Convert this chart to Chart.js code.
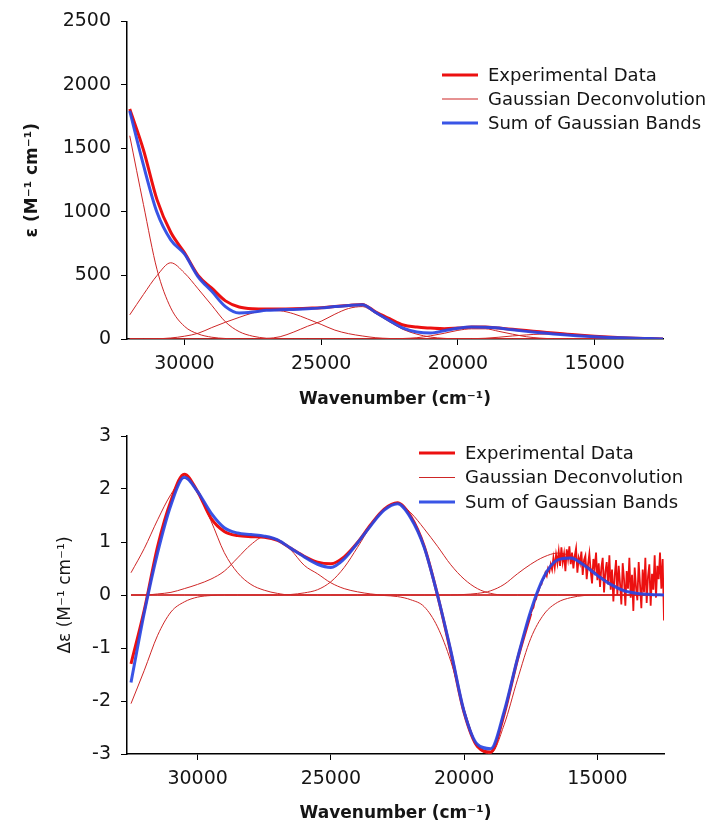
<!DOCTYPE html>
<html>
<head>
<meta charset="utf-8">
<title>Gaussian deconvolution - absorption and CD</title>
<style>
    body { margin: 0; background: #fff; }
    canvas { display: block; }
</style>
</head>
<body>

<script src="https://cdn.jsdelivr.net/npm/chart.js@4.4.0/dist/chart.umd.min.js"></script>

<canvas id="abs" width="714" height="412"></canvas>
<canvas id="cd" width="714" height="412"></canvas>

<script>
    // grid helper (wavenumbers only, values are typed below)
    function range(from, to, step) {
        const out = [];
        for (let v = from; v >= to; v -= step) out.push(v);
        return out;
    }

    // ---------- top panel: epsilon ----------
    const absWn = range(32000, 12500, 500);   // 40 points
    const absExp = [1810, 1490, 1095, 840, 680, 500, 400, 300, 252, 238,
        236, 236, 238, 242, 246, 256, 264, 272, 212, 160,
        110, 94, 86, 80, 86, 94, 94, 86, 76, 66,
        57, 47, 38, 29, 21, 15, 10, 6, 3, 0];
    const absSum = [1795, 1370, 995, 780, 670, 490, 375, 255, 205, 212,
        226, 230, 233, 238, 245, 255, 264, 270, 208, 145,
        85, 55, 47, 65, 85, 94, 92, 86, 72, 60,
        50, 40, 31, 24, 17, 12, 9, 6, 3, 0];
    const absBands = [
        [1600, 1060, 545, 245, 100, 40, 14, 4, 0, 0, 0, 0, 0, 0, 0, 0, 0, 0, 0, 0,
            0, 0, 0, 0, 0, 0, 0, 0, 0, 0, 0, 0, 0, 0, 0, 0, 0, 0, 0, 0],
        [190, 350, 500, 600, 520, 395, 265, 135, 58, 22, 6, 1, 0, 0, 0, 0, 0, 0, 0, 0,
            0, 0, 0, 0, 0, 0, 0, 0, 0, 0, 0, 0, 0, 0, 0, 0, 0, 0, 0, 0],
        [0, 0, 2, 8, 22, 45, 90, 132, 170, 205, 225, 222, 198, 158, 115, 70, 42, 24, 10, 4,
            0, 0, 0, 0, 0, 0, 0, 0, 0, 0, 0, 0, 0, 0, 0, 0, 0, 0, 0, 0],
        [0, 0, 0, 0, 0, 0, 0, 0, 0, 0, 4, 18, 55, 100, 140, 195, 240, 255, 200, 135,
            75, 38, 15, 5, 1, 0, 0, 0, 0, 0, 0, 0, 0, 0, 0, 0, 0, 0, 0, 0],
        [0, 0, 0, 0, 0, 0, 0, 0, 0, 0, 0, 0, 0, 0, 0, 0, 0, 0, 0, 0,
            4, 10, 25, 45, 68, 80, 80, 60, 38, 18, 7, 2, 0, 0, 0, 0, 0, 0, 0, 0],
        [0, 0, 0, 0, 0, 0, 0, 0, 0, 0, 0, 0, 0, 0, 0, 0, 0, 0, 0, 0,
            0, 0, 0, 0, 0, 2, 6, 14, 24, 32, 38, 38, 31, 24, 17, 12, 8, 5, 2, 0]
    ];
    const absYTicks = [0, 500, 1000, 1500, 2000, 2500];

    // ---------- bottom panel: delta epsilon ----------
    const cdWn = range(32500, 12500, 500);    // 41 points
    // experimental CD: smooth part read every 500, noisy tail every 50
    const cdExpWn = range(32500, 17500, 500);
    const cdExp = [-1.3, -0.28, 0.92, 1.78, 2.28, 1.95, 1.45, 1.2, 1.12, 1.1,
        1.09, 1.03, 0.88, 0.73, 0.62, 0.59, 0.72, 0.99, 1.33, 1.62,
        1.74, 1.48, 0.92, 0.0, -1.08, -2.22, -2.86, -2.96, -2.25, -1.22, -0.35];
    const cdNoiseWn = range(17500, 12500, 50);
    const cdNoise = [
        -0.35, -0.28, -0.24, -0.12, -0.08, 0.04, 0.08, 0.18, 0.20, 0.30, 0.32,
        0.42, 0.36, 0.50, 0.44, 0.58, 0.48, 0.70, 0.52, 0.76, 0.60,
        0.82, 0.55, 0.90, 0.62, 0.78, 0.45, 0.86, 0.68, 0.92, 0.58,
        0.80, 0.50, 0.74, 0.88, 0.42, 0.70, 0.60, 0.82, 0.38, 0.66,
        0.74, 0.30, 0.58, 0.78, 0.45, 0.22, 0.68, 0.50, 0.80, 0.28,
        0.60, 0.15, 0.52, 0.70, 0.05, 0.44, 0.62, 0.20, 0.75, 0.10,
        0.48, -0.12, 0.36, 0.66, 0.00, 0.55, 0.22, -0.18, 0.60, 0.30,
        -0.20, 0.45, 0.12, 0.70, -0.05, 0.38, -0.30, 0.52, 0.15, -0.10,
        0.62, 0.20, -0.25, 0.48, 0.05, 0.70, -0.15, 0.35, 0.58, -0.20,
        0.40, 0.10, 0.75, -0.05, 0.55, 0.30, 0.80, 0.12, 0.68, -0.48];
    const cdSum = [-1.65, -0.33, 0.8, 1.7, 2.22, 1.95, 1.55, 1.27, 1.17, 1.14,
        1.11, 1.04, 0.88, 0.72, 0.58, 0.52, 0.68, 0.98, 1.31, 1.6,
        1.72, 1.45, 0.9, 0.0, -1.05, -2.2, -2.82, -2.9, -2.2, -1.2,
        -0.3, 0.35, 0.66, 0.70, 0.56, 0.37, 0.2, 0.08, 0.03, 0.01, 0];
    const cdBands = [
        [-2.05, -1.42, -0.76, -0.32, -0.13, -0.04, -0.01, 0, 0, 0, 0, 0, 0, 0, 0, 0, 0, 0, 0, 0,
            0, 0, 0, 0, 0, 0, 0, 0, 0, 0, 0, 0, 0, 0, 0, 0, 0, 0, 0, 0, 0],
        [0.42, 0.88, 1.42, 1.9, 2.2, 1.92, 1.4, 0.8, 0.42, 0.2, 0.09, 0.03, 0, 0, 0, 0, 0, 0, 0, 0,
            0, 0, 0, 0, 0, 0, 0, 0, 0, 0, 0, 0, 0, 0, 0, 0, 0, 0, 0, 0, 0],
        [0, 0, 0.02, 0.05, 0.12, 0.2, 0.3, 0.45, 0.7, 0.95, 1.1, 1.05, 0.85, 0.56, 0.4, 0.23, 0.12, 0.06, 0.02, 0,
            0, 0, 0, 0, 0, 0, 0, 0, 0, 0, 0, 0, 0, 0, 0, 0, 0, 0, 0, 0, 0],
        [0, 0, 0, 0, 0, 0, 0, 0, 0, 0, 0, 0, 0.01, 0.04, 0.1, 0.25, 0.52, 0.9, 1.3, 1.62,
            1.74, 1.55, 1.25, 0.92, 0.57, 0.3, 0.12, 0.03, 0, 0, 0, 0, 0, 0, 0, 0, 0, 0, 0, 0, 0],
        [0, 0, 0, 0, 0, 0, 0, 0, 0, 0, 0, 0, 0, 0, 0, 0, 0, 0, 0, -0.01,
            -0.03, -0.09, -0.22, -0.6, -1.25, -2.15, -2.85, -2.99, -2.45, -1.6,
            -0.82, -0.36, -0.14, -0.05, -0.01, 0, 0, 0, 0, 0, 0],
        [0, 0, 0, 0, 0, 0, 0, 0, 0, 0, 0, 0, 0, 0, 0, 0, 0, 0, 0, 0,
            0, 0, 0, 0, 0, 0.01, 0.03, 0.08, 0.2, 0.4, 0.58, 0.72, 0.79, 0.74, 0.6,
            0.4, 0.22, 0.09, 0.03, 0.01, 0]
    ];
    const cdYTicks = [-3, -2, -1, 0, 1, 2, 3];

    const xTicks = [30000, 25000, 20000, 15000];

    const RED = 'rgb(236, 16, 16)';
    const THIN = 'rgb(206, 38, 38)';
    const BLUE = 'rgba(40, 70, 228, 0.92)';

    Chart.defaults.font.family = '"DejaVu Sans"';
    Chart.defaults.color = '#151515';

    function pts(xs, ys) {
        return xs.map((x, i) => ({x: x, y: ys[i]}));
    }

    function buildDatasets(wn, exp, expWn, sum, bands, noiseWn, noise) {
        // first dataset is drawn on top
        const sets = [
            {label: 'Sum of Gaussian Bands', data: pts(wn, sum), borderColor: BLUE, borderWidth: 3},
            {label: 'Experimental Data', data: pts(expWn, exp), borderColor: RED, borderWidth: 3}
        ];
        if (noise) {
            // jagged tail: straight segments
            sets.push({label: 'Experimental Data', data: pts(noiseWn, noise), borderColor: RED,
                borderWidth: 1.8, cubicInterpolationMode: 'default', tension: 0});
        }
        bands.forEach(b => {
            sets.push({label: 'Gaussian Deconvolution', data: pts(wn, b), borderColor: THIN, borderWidth: 1});
        });
        return sets;
    }

    // legend drawn at a fixed spot inside the plot, like the original figure
    const fixedLegend = {
        id: 'fixedLegend',
        afterDraw(chart, args, opts) {
            const ctx = chart.ctx;
            const rows = [
                ['Experimental Data', RED, 3],
                ['Gaussian Deconvolution', THIN, 1.2],
                ['Sum of Gaussian Bands', BLUE, 3]
            ];
            ctx.save();
            ctx.font = '18px "DejaVu Sans"';
            ctx.textBaseline = 'middle';
            rows.forEach((r, i) => {
                const y = opts.y + i * opts.gap;
                ctx.strokeStyle = r[1];
                ctx.lineWidth = r[2];
                ctx.beginPath();
                ctx.moveTo(opts.x, y);
                ctx.lineTo(opts.x + 36, y);
                ctx.stroke();
                ctx.fillStyle = '#151515';
                ctx.fillText(r[0], opts.x + 46, y + 1);
            });
            ctx.restore();
        }
    };

    function makeChart(id, cfg) {
        return new Chart(document.getElementById(id), {
            type: 'line',
            data: {datasets: cfg.datasets},
            plugins: [fixedLegend],
            options: {
                responsive: false,
                animation: false,
                elements: {
                    point: {radius: 0},
                    line: {cubicInterpolationMode: 'monotone', fill: false}
                },
                layout: {padding: {top: cfg.top, right: cfg.right, left: 0, bottom: 0}},
                plugins: {
                    legend: {display: false},
                    tooltip: {enabled: false},
                    fixedLegend: cfg.legend
                },
                scales: {
                    x: {
                        type: 'linear',
                        reverse: true,
                        min: 12500,
                        max: cfg.xMax,
                        afterBuildTicks: s => { s.ticks = xTicks.map(v => ({value: v})); },
                        afterFit: s => { s.height = cfg.xHeight; },
                        grid: {drawOnChartArea: false, tickLength: 6, color: '#000'},
                        border: {color: '#000', width: 1.5},
                        ticks: {font: {size: 19}, padding: 8, maxRotation: 0, callback: v => String(v)},
                        title: {
                            display: true,
                            text: 'Wavenumber (cm⁻¹)',
                            font: {size: 17, weight: '600'},
                            padding: {top: 0, bottom: cfg.xTitlePad}
                        }
                    },
                    y: {
                        min: cfg.yTicks[0],
                        max: cfg.yTicks[cfg.yTicks.length - 1],
                        afterBuildTicks: s => { s.ticks = cfg.yTicks.map(v => ({value: v})); },
                        afterFit: s => { s.width = 127; },
                        grid: {drawOnChartArea: false, tickLength: 6, color: '#000'},
                        border: {color: '#000', width: 1.5},
                        ticks: {font: {size: 19}, padding: 10, callback: v => String(v)},
                        title: {
                            display: true,
                            text: cfg.yTitle,
                            font: {size: 17, weight: cfg.yTitleWeight},
                            padding: {top: cfg.yTitlePad, bottom: 0}
                        }
                    }
                }
            }
        });
    }

    makeChart('abs', {
        datasets: buildDatasets(absWn, absExp, absWn, absSum, absBands),
        top: 21, right: 51, xMax: 32100, xHeight: 73, xTitlePad: 2,
        yTicks: absYTicks, yTitle: 'ε (M⁻¹ cm⁻¹)', yTitleWeight: 'bold', yTitlePad: 22,
        legend: {x: 442, y: 75, gap: 24}
    });

    makeChart('cd', {
        datasets: buildDatasets(cdWn, cdExp, cdExpWn, cdSum, cdBands, cdNoiseWn, cdNoise),
        top: 24, right: 50, xMax: 32650, xHeight: 70, xTitlePad: 0,
        yTicks: cdYTicks, yTitle: 'Δε (M⁻¹ cm⁻¹)', yTitleWeight: 'normal', yTitlePad: 55,
        legend: {x: 419, y: 41, gap: 24.5}
    });
</script>

</body>
</html>
